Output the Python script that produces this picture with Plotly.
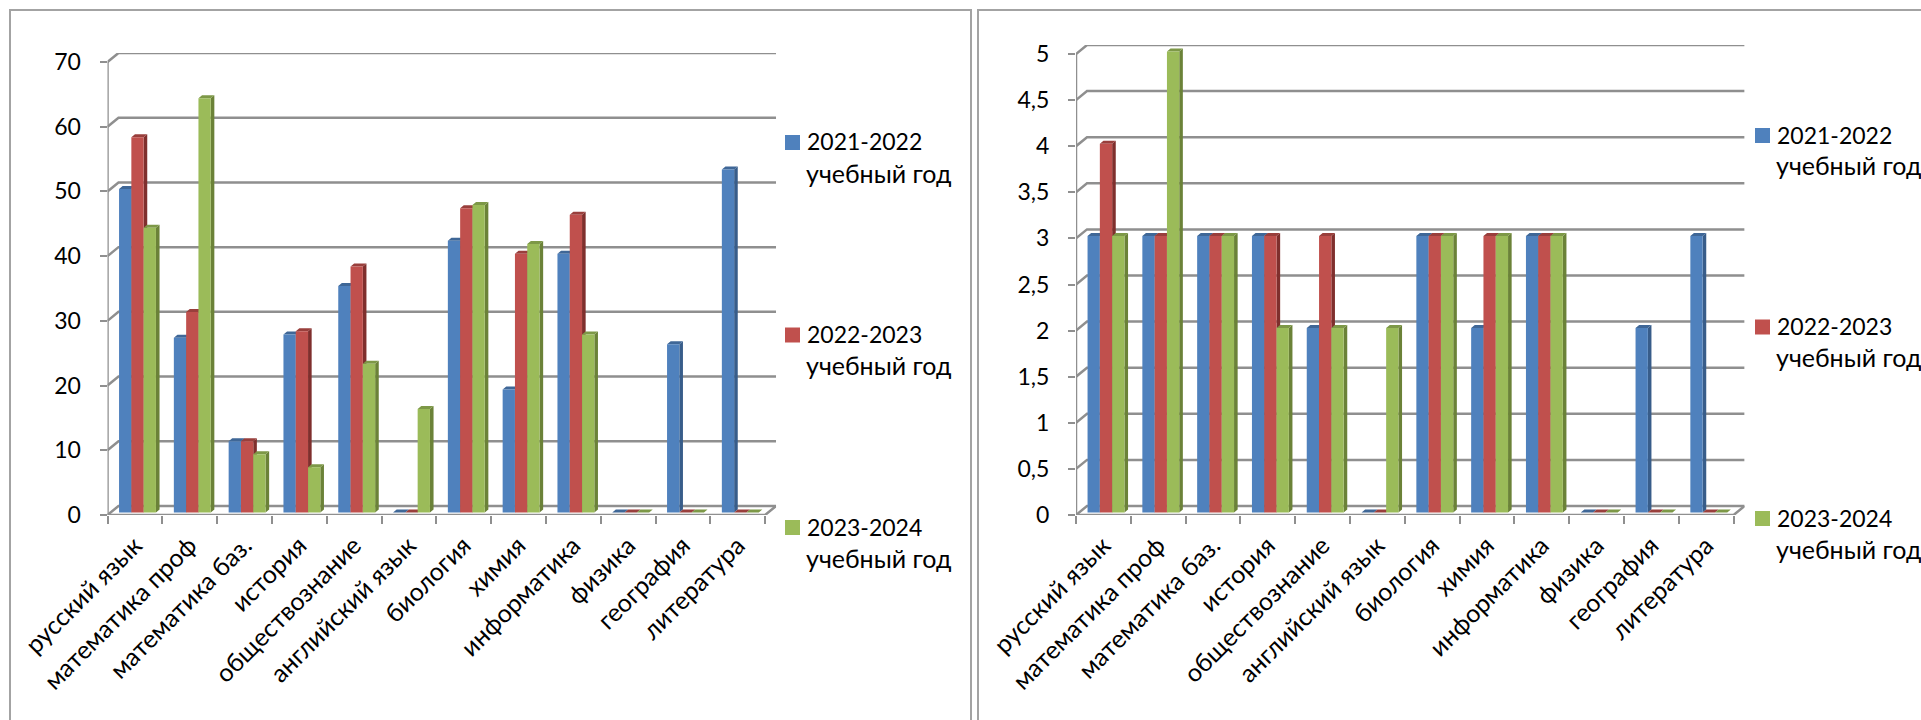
import plotly.graph_objects as go

categories = ["русский язык", "математика проф", "математика баз.", "история",
              "обществознание", "английский язык", "биология", "химия",
              "информатика", "физика", "география", "литература"]
series_names = ["2021-2022", "2022-2023", "2023-2024"]
series_caption = "учебный год"

left_2021 = [50, 27, 11, 27.5, 35, 0, 42, 19, 40, 0, 26, 53]
left_2022 = [58, 31, 11, 28, 38, 0, 47, 40, 46, 0, 0, 0]
left_2023 = [44, 64, 9, 7, 23, 16, 47.5, 41.5, 27.5, 0, 0, 0]
left_ticks = [0, 10, 20, 30, 40, 50, 60, 70]
left_ticktext = ["0", "10", "20", "30", "40", "50", "60", "70"]

right_2021 = [3, 3, 3, 3, 2, 0, 3, 2, 3, 0, 2, 3]
right_2022 = [4, 3, 3, 3, 3, 0, 3, 3, 3, 0, 0, 0]
right_2023 = [3, 5, 3, 2, 2, 2, 3, 3, 3, 0, 0, 0]
right_ticks = [0, 0.5, 1, 1.5, 2, 2.5, 3, 3.5, 4, 4.5, 5]
right_ticktext = ["0", "0,5", "1", "1,5", "2", "2,5", "3", "3,5", "4", "4,5", "5"]

W, H = 1921, 720
FONT = "Lato"
FS_CAT = 25
FS_NUM = 23
GRID = "#8f8f8f"
FRONT = ["#4f81bd", "#c0504d", "#9bbb59"]
SIDE = ["#385d8a", "#7f2f2d", "#6b8238"]
TOP = ["#3f6797", "#993f3c", "#7d9847"]

DEPTH_X, DEPTH_Y = 11.0, 9.0      # wall depth, px
BAR_OX, BAR_OY = 2.6, 2.5         # bars stand slightly inside the floor, px
SIDE_X, SIDE_Y = 3.6, 3.0         # bar depth, px
STEP = 54.8                       # px per category
BAR_W = 12.3 / STEP

fig = go.Figure()
annotations = []
shapes = []


def build(n, values, ticks, ticktext, x0, y0, ytop_px, key_x, key_y, key_step):
    """n: axis number of the base layer; bars go on an overlaying axis pair."""
    ymax = ticks[-1]
    ppu = (y0 - ytop_px) / ymax
    dx, dy = DEPTH_X / STEP, DEPTH_Y / ppu
    ox, oy = BAR_OX / STEP, BAR_OY / ppu
    sx, sy = SIDE_X / STEP, SIDE_Y / ppu
    n_cat = len(categories)
    lo, hi = -0.5, n_cat - 0.5
    xs = list(range(n_cat))
    base_x = "x" if n == 1 else f"x{n}"
    base_y = "y" if n == 1 else f"y{n}"
    over_n = n + 2
    over_x, over_y = f"x{over_n}", f"y{over_n}"

    # back wall gridlines with the slanted link to each tick
    gx, gy = [], []
    for t in ticks:
        gx += [lo, lo + dx, hi + dx, None]
        gy += [t, t + dy, t + dy, None]
    gx += [lo, lo, None, lo, hi, hi + dx]
    gy += [0, ymax, None, 0, 0, dy]
    fig.add_trace(go.Scatter(x=gx, y=gy, mode="lines", line=dict(color=GRID, width=2.5),
                             xaxis=base_x, yaxis=base_y, showlegend=False,
                             hoverinfo="skip", cliponaxis=False))

    # bar depth faces, computed from the values
    for j, vals in enumerate(values):
        sxs, sys, txs, tys = [], [], [], []
        for i, v in zip(xs, vals):
            xl = i + (j - 1.5) * BAR_W + ox
            xr = xl + BAR_W
            b = oy
            sxs += [xr, xr + sx, xr + sx, xr, xr, None]
            sys += [b, b + sy, b + v + sy, b + v, b, None]
            txs += [xl, xr, xr + sx, xl + sx, xl, None]
            tys += [b + v, b + v, b + v + sy, b + v + sy, b + v, None]
        for px, py, col in ((sxs, sys, SIDE[j]), (txs, tys, TOP[j])):
            fig.add_trace(go.Scatter(x=px, y=py, mode="lines", fill="toself", fillcolor=col,
                                     line=dict(width=0, color=col), xaxis=base_x, yaxis=base_y,
                                     showlegend=False, hoverinfo="skip", cliponaxis=False))

    # front faces and the key beside the chart
    for j, vals in enumerate(values):
        fig.add_trace(go.Bar(x=xs, y=vals, name=series_names[j], marker=dict(color=FRONT[j], line=dict(width=0)),
                             xaxis=over_x, yaxis=over_y, showlegend=False))
        ky = key_y + j * key_step
        shapes.append(dict(type="rect", xref="paper", yref="paper", layer="above",
                           x0=key_x / W, x1=(key_x + 15) / W, y0=1 - (ky + 7.5) / H, y1=1 - (ky - 7.5) / H,
                           fillcolor=FRONT[j], line=dict(width=0)))
        annotations.append(dict(text=series_names[j], xref="paper", yref="paper", showarrow=False,
                                x=(key_x + 21) / W, y=1 - (ky - 1) / H, xanchor="left", yanchor="middle",
                                borderpad=0, font=dict(family=FONT, size=FS_NUM, color="black")))
        annotations.append(dict(text=series_caption, xref="paper", yref="paper", showarrow=False,
                                x=(key_x + 20) / W, y=1 - (ky + 30) / H, xanchor="left", yanchor="middle",
                                borderpad=0, font=dict(family=FONT, size=FS_CAT, color="black")))

    xr_end = hi + dx
    ytop = ymax + dy
    dom_x = [x0 / W, (x0 + (xr_end - lo) * STEP) / W]
    dom_y = [1 - y0 / H, 1 - (y0 - ytop * ppu) / H]
    suffix = "" if n == 1 else str(n)
    fig.layout[f"xaxis{suffix}"] = dict(
        domain=dom_x, range=[lo, xr_end], anchor=base_y, showgrid=False, zeroline=False, showline=False,
        automargin=False, tickmode="array", tickvals=xs, ticktext=categories, tickangle=-45, ticks="",
        tickfont=dict(family=FONT, size=FS_CAT, color="black"), ticklabelstandoff=10,
        minor=dict(tickmode="array", tickvals=[lo + k for k in range(n_cat + 1)], ticks="outside",
                   ticklen=8, tickwidth=2, tickcolor=GRID, showgrid=False),
    )
    fig.layout[f"yaxis{suffix}"] = dict(
        domain=dom_y, range=[0, ytop], anchor=base_x, showgrid=False, zeroline=False, showline=False,
        automargin=False, tickmode="array", tickvals=ticks, ticktext=ticktext, ticks="outside", ticklen=7,
        tickwidth=2, tickcolor=GRID, tickfont=dict(family=FONT, size=FS_NUM, color="black"), ticklabelstandoff=14,
    )
    fig.layout[f"xaxis{over_n}"] = dict(overlaying=base_x, range=[lo - ox, xr_end - ox], visible=False,
                                        anchor=over_y, fixedrange=True, automargin=False)
    fig.layout[f"yaxis{over_n}"] = dict(overlaying=base_y, range=[-oy, ytop - oy], visible=False,
                                        anchor=over_x, fixedrange=True, automargin=False)


build(1, [left_2021, left_2022, left_2023], left_ticks, left_ticktext, 107.5, 515, 62, 785, 142.5, 192.5)
build(2, [right_2021, right_2022, right_2023], right_ticks, right_ticktext, 1076, 515, 54, 1755, 135.5, 191.5)

frame = dict(color="#a3a3a3", width=2)
shapes += [
    dict(type="rect", xref="paper", yref="paper", x0=10 / W, x1=971 / W, y0=-0.05, y1=1 - 10 / H, line=frame),
    dict(type="rect", xref="paper", yref="paper", x0=978 / W, x1=1.05, y0=-0.05, y1=1 - 10 / H, line=frame),
]
fig.update_layout(
    template="none", showlegend=False,
    width=W, height=H, margin=dict(l=0, r=0, t=0, b=0, pad=0, autoexpand=False), autosize=False,
    paper_bgcolor="white", plot_bgcolor="rgba(0,0,0,0)", barmode="group", bargap=1 - 3 * BAR_W, bargroupgap=0,
    hovermode=False, annotations=annotations, shapes=shapes,
)
fig.write_html("out.html", post_script="document.body.style.margin='0';document.body.style.overflow='hidden';",
               config={"displayModeBar": False})
